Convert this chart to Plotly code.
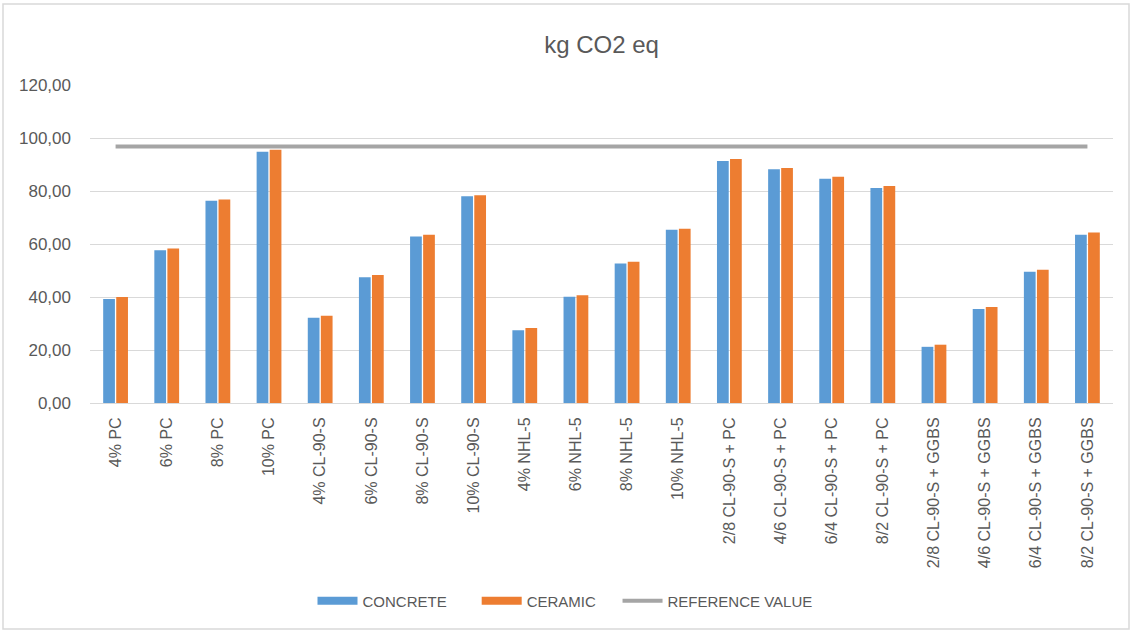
import plotly.graph_objects as go

categories = ["4% PC", "6% PC", "8% PC", "10% PC",
              "4% CL-90-S", "6% CL-90-S", "8% CL-90-S", "10% CL-90-S",
              "4% NHL-5", "6% NHL-5", "8% NHL-5", "10% NHL-5",
              "2/8 CL-90-S + PC", "4/6 CL-90-S + PC", "6/4 CL-90-S + PC", "8/2 CL-90-S + PC",
              "2/8 CL-90-S + GGBS", "4/6 CL-90-S + GGBS", "6/4 CL-90-S + GGBS", "8/2 CL-90-S + GGBS"]
concrete = [39.2, 57.6, 76.3, 94.8,
            32.2, 47.5, 62.8, 78.0,
            27.5, 40.1, 52.6, 65.4,
            91.3, 88.2, 84.6, 81.1,
            21.2, 35.5, 49.5, 63.5]
ceramic = [40.0, 58.3, 76.8, 95.6,
           32.9, 48.3, 63.5, 78.4,
           28.3, 40.7, 53.3, 65.8,
           92.1, 88.7, 85.4, 81.9,
           22.0, 36.2, 50.3, 64.3]
reference_value = [96.8] * len(categories)
y_ticks = [0, 20, 40, 60, 80, 100, 120]

BLUE = "#5b9bd5"
ORANGE = "#ed7d31"
GRAY = "#a5a5a5"
TXT = "#595959"

fig = go.Figure()
fig.add_trace(go.Bar(x=categories, y=concrete, name="CONCRETE", marker_color=BLUE,
                     marker_line_width=0, showlegend=False))
fig.add_trace(go.Bar(x=categories, y=ceramic, name="CERAMIC", marker_color=ORANGE,
                     marker_line_width=0, showlegend=False))
fig.add_trace(go.Scatter(x=categories, y=reference_value, name="REFERENCE VALUE", mode="lines",
                         line=dict(color=GRAY, width=4), showlegend=False))
# legend entries
for nm, col, w in [("CONCRETE      ", BLUE, 8), ("CERAMIC    ", ORANGE, 8), ("REFERENCE VALUE", GRAY, 4)]:
    fig.add_trace(go.Scatter(x=[None], y=[None], mode="lines", name=nm,
                             line=dict(color=col, width=w), showlegend=True))

L, R, T, B = 90, 19, 85, 228
W, H = 1132, 631
pw = W - L - R
ph = H - T - B

def px(xp):
    return (xp - L) / pw

def py(yp):
    return (H - B - yp) / ph

fig.update_layout(
    width=W, height=H,
    margin=dict(l=L, r=R, t=T, b=B, pad=0),
    paper_bgcolor="white", plot_bgcolor="white",
    separators=", ",
    barmode="group", bargap=0.49, bargroupgap=0.1,
    font=dict(family="Liberation Sans, Arial, sans-serif", color=TXT),
    title=dict(text="kg CO2 eq", x=0.5, xref="paper", xanchor="center",
               y=1 - 45 / H, yanchor="middle",
               font=dict(size=24, color=TXT)),
    xaxis=dict(type="category", tickangle=-90, tickfont=dict(size=16, color=TXT),
               showgrid=False, showline=True, linecolor="#d9d9d9", linewidth=1,
               ticks="", zeroline=False, ticklabelstandoff=7),
    yaxis=dict(range=[0, 120], tickvals=y_ticks, tickformat=".2f",
               tickfont=dict(size=17, color=TXT), showgrid=True, gridcolor="#d9d9d9",
               gridwidth=1, zeroline=False, showline=False, ticks="",
               ticklabelstandoff=18),
    legend=dict(orientation="h", x=px(565), xanchor="center", y=py(601), yanchor="middle",
                font=dict(size=15, color=TXT), bgcolor="rgba(0,0,0,0)",
                itemwidth=40, traceorder="normal"),
    shapes=[dict(type="rect", xref="paper", yref="paper",
                 x0=px(3), x1=px(1129), y0=py(629), y1=py(4),
                 line=dict(color="#d9d9d9", width=1.5), layer="below")],
)

fig.write_html("out.html", config={"displayModeBar": False},
               post_script="document.body.style.margin='0';document.body.style.overflow='hidden';")
